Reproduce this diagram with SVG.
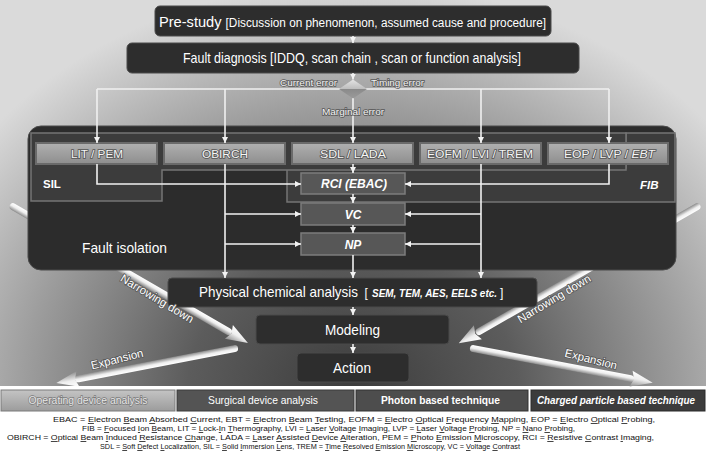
<svg xmlns="http://www.w3.org/2000/svg" width="706" height="454" viewBox="0 0 706 454">
<style>
text{font-family:"Liberation Sans",Arial,sans-serif;}
.dbox{fill:#2d2d2d;stroke:#4a4a4a;stroke-width:1;}
.dtx{fill:#ffffff;text-anchor:middle;}
.tbox{fill:url(#tg);stroke:#6a6a6a;stroke-width:2;}
.ttx{fill:#f6f6f6;font-size:11px;text-anchor:middle;stroke:#555;stroke-width:1.6;paint-order:stroke;}
.sbox{fill:#575757;stroke:#7c7c7c;stroke-width:1.5;}
.stx{fill:#ffffff;font-size:12px;font-weight:bold;font-style:italic;text-anchor:middle;}
.frame{fill:#3c3c3c;stroke:#747474;stroke-width:1.5;}
.con{fill:none;stroke:#f0f0f0;stroke-width:1.6;}
.arr{marker-end:url(#ah);}
.lbl{fill:#f4f4f4;font-size:9.5px;stroke:#5a5a5a;stroke-width:1.6;paint-order:stroke;}
.big{fill:#ffffff;font-size:11.5px;stroke:#555;stroke-width:1.6;paint-order:stroke;text-anchor:middle;}
.leg{fill:#111;font-size:7.8px;}
.u{text-decoration:underline;}
</style>
<defs>
<radialGradient id="bg" gradientUnits="userSpaceOnUse" cx="353" cy="392" r="410" gradientTransform="translate(353 392) scale(1.15 1) translate(-353 -392)">
<stop offset="0" stop-color="#3c3c3c"/>
<stop offset="0.35" stop-color="#5c5c5c"/>
<stop offset="0.7" stop-color="#9e9e9e"/>
<stop offset="1" stop-color="#dadada"/>
</radialGradient>
<linearGradient id="tg" x1="0" y1="0" x2="0" y2="1">
<stop offset="0" stop-color="#b0b0b0"/>
<stop offset="1" stop-color="#8e8e8e"/>
</linearGradient>
<linearGradient id="ag" x1="0" y1="0" x2="0" y2="1">
<stop offset="0" stop-color="#ffffff"/>
<stop offset="0.45" stop-color="#eeeeee"/>
<stop offset="1" stop-color="#8a8a8a"/>
</linearGradient>
<linearGradient id="dg" x1="0" y1="0" x2="0" y2="1">
<stop offset="0" stop-color="#e4e4e4"/>
<stop offset="0.5" stop-color="#bdbdbd"/>
<stop offset="0.5" stop-color="#8a8a8a"/>
<stop offset="1" stop-color="#9a9a9a"/>
</linearGradient>
<linearGradient id="og" x1="0" y1="0" x2="0" y2="1">
<stop offset="0" stop-color="#c4c4c4"/>
<stop offset="1" stop-color="#9c9c9c"/>
</linearGradient>
<marker id="ah" viewBox="0 0 8 8" refX="8" refY="4" markerWidth="6" markerHeight="6" markerUnits="userSpaceOnUse" orient="auto">
<path d="M0,0 L8,4 L0,8 z" fill="#f2f2f2"/>
</marker>
</defs>

<rect x="0" y="0" width="706" height="454" fill="#ffffff"/>
<rect x="0" y="0" width="706" height="386" fill="url(#bg)"/>

<g id="bigArrows">
<g transform="translate(10 205) rotate(30.1)">
<rect x="0" y="-3.5" width="256" height="7" rx="3.5" fill="url(#ag)"/>
<polygon points="253,-8 275,0 253,8 256,0" fill="url(#ag)"/>
</g>
<g transform="translate(700 205) rotate(150.2)">
<rect x="0" y="-3.5" width="258" height="7" rx="3.5" fill="url(#ag)"/>
<polygon points="256,-8 278,0 256,8 259,0" fill="url(#ag)"/>
</g>
<g transform="translate(238 348) rotate(169.1)">
<rect x="0" y="-3.5" width="166" height="7" rx="3.5" fill="url(#ag)"/>
<polygon points="163,-8 185,0 163,8 166,0" fill="url(#ag)"/>
</g>
<g transform="translate(470 348) rotate(10.8)">
<rect x="0" y="-3.5" width="167" height="7" rx="3.5" fill="url(#ag)"/>
<polygon points="164,-8 186,0 164,8 167,0" fill="url(#ag)"/>
</g>
</g>

<g id="n-prestudy">
<rect class="dbox" x="155" y="6" width="396" height="30" rx="5"/>
<text class="dtx" x="352.5" y="26.5" textLength="387" lengthAdjust="spacingAndGlyphs"><tspan font-size="15.5">Pre-study </tspan><tspan font-size="12.5">[Discussion on phenomenon, assumed cause and procedure]</tspan></text>
</g>
<g id="n-faultdiag">
<rect class="dbox" x="127" y="43" width="452" height="30" rx="5"/>
<text class="dtx" x="352" y="63" font-size="14.5" textLength="338" lengthAdjust="spacingAndGlyphs">Fault diagnosis [IDDQ, scan chain , scan or function analysis]</text>
</g>

<g id="n-faultisolation">
<rect x="28" y="126" width="648" height="144" rx="13" fill="#2c2c2c" stroke="#4a4a4a" stroke-width="1"/>
<path class="frame" d="M287,168 H626 V133 H675 V202 H287 Z"/>
<path class="frame" d="M31,133 H626 V170 H162 V201 H31 Z"/>
<text x="82" y="253" fill="#ffffff" font-size="14.5" textLength="85" lengthAdjust="spacingAndGlyphs">Fault isolation</text>
<text x="43" y="188" fill="#ffffff" font-size="11.5" font-weight="bold">SIL</text>
<text x="640" y="189" fill="#ffffff" font-size="11.5" font-weight="bold" font-style="italic">FIB</text>
</g>

<g id="n-litpem"><rect class="tbox" x="36" y="143" width="121" height="21"/><text class="ttx" x="97" y="157.5" textLength="52" lengthAdjust="spacingAndGlyphs">LIT / PEM</text></g>
<g id="n-obirch"><rect class="tbox" x="164" y="143" width="121" height="21"/><text class="ttx" x="225" y="157.5" textLength="46" lengthAdjust="spacingAndGlyphs">OBIRCH</text></g>
<g id="n-sdllada"><rect class="tbox" x="292" y="143" width="121" height="21"/><text class="ttx" x="353" y="157.5" textLength="66" lengthAdjust="spacingAndGlyphs">SDL / LADA</text></g>
<g id="n-eofm"><rect class="tbox" x="420" y="143" width="121" height="21"/><text class="ttx" x="480" y="157.5" textLength="106" lengthAdjust="spacingAndGlyphs">EOFM / LVI / TREM</text></g>
<g id="n-eop"><rect class="tbox" x="548" y="143" width="120" height="21"/><text class="ttx" x="609.5" y="157.5" textLength="91" lengthAdjust="spacingAndGlyphs">EOP / LVP / <tspan font-style="italic">EBT</tspan></text></g>

<g id="n-rci"><rect class="sbox" x="301" y="173" width="104" height="21"/><text class="stx" x="354" y="188" textLength="66" lengthAdjust="spacingAndGlyphs">RCI (EBAC)</text></g>
<g id="n-vc"><rect class="sbox" x="301" y="203" width="104" height="22"/><text class="stx" x="353" y="218.5">VC</text></g>
<g id="n-np"><rect class="sbox" x="301" y="233" width="104" height="22"/><text class="stx" x="353" y="248.5">NP</text></g>

<g id="n-physical">
<rect class="dbox" x="168" y="278" width="369" height="29" rx="4"/>
<text x="199" y="297" fill="#fff" font-size="14.5" textLength="159" lengthAdjust="spacingAndGlyphs">Physical chemical analysis</text>
<text x="364.5" y="297" fill="#fff" font-size="12">[</text>
<text x="372" y="297" fill="#fff" font-size="11" font-weight="bold" font-style="italic" textLength="125" lengthAdjust="spacingAndGlyphs">SEM, TEM, AES, EELS etc.</text>
<text x="500" y="297" fill="#fff" font-size="12">]</text>
</g>
<g id="n-modeling">
<rect class="dbox" x="256" y="315" width="193" height="29" rx="4"/>
<text class="dtx" x="352.5" y="334.5" font-size="15" textLength="55" lengthAdjust="spacingAndGlyphs">Modeling</text>
</g>
<g id="n-action">
<rect class="dbox" x="297" y="353" width="112" height="29" rx="4"/>
<text class="dtx" x="352" y="372.5" font-size="15" textLength="38" lengthAdjust="spacingAndGlyphs">Action</text>
</g>

<g id="connectors">
<path class="con arr" d="M353,36 V43"/>
<path class="con arr" d="M353,73 V79.5"/>
<path class="con" d="M97,89 H609"/>
<path class="con arr" d="M97,89 V143"/>
<path class="con arr" d="M225,89 V143"/>
<path class="con arr" d="M481,89 V143"/>
<path class="con arr" d="M609,89 V143"/>
<path class="con arr" d="M353,98 V143"/>
<path class="con arr" d="M97,164 V184 H301"/>
<path class="con arr" d="M609,164 V184 H405"/>
<path class="con arr" d="M225,164 V278"/>
<path class="con arr" d="M225,214 H301"/>
<path class="con arr" d="M225,244 H301"/>
<path class="con arr" d="M481,164 V278"/>
<path class="con arr" d="M481,214 H405"/>
<path class="con arr" d="M481,244 H405"/>
<path class="con arr" d="M353,164 V173"/>
<path class="con arr" d="M353,194 V203"/>
<path class="con arr" d="M353,225 V233"/>
<path class="con arr" d="M353,255 V278"/>
<path class="con arr" d="M353,307 V315"/>
<path class="con arr" d="M353,344 V353"/>
</g>

<g id="n-diamond">
<polygon points="339,89 353,79.5 367,89 353,98.5" fill="url(#dg)"/>
</g>

<g id="labels">
<text class="lbl" x="337" y="86" text-anchor="end" textLength="57" lengthAdjust="spacingAndGlyphs">Current error</text>
<text class="lbl" x="371" y="86" textLength="53" lengthAdjust="spacingAndGlyphs">Timing error</text>
<text class="lbl" x="353" y="114.5" text-anchor="middle" textLength="62" lengthAdjust="spacingAndGlyphs">Marginal error</text>
<text class="big" transform="translate(155 302) rotate(31)">Narrowing down</text>
<text class="big" transform="translate(556 302) rotate(-31)">Narrowing down</text>
<text class="big" transform="translate(118 363) rotate(-14)">Expansion</text>
<text class="big" transform="translate(590 363) rotate(14)">Expansion</text>
</g>

<g id="legendBar">
<rect x="1" y="390" width="174" height="21" fill="url(#og)" stroke="#7a7a7a" stroke-width="1"/>
<text x="88" y="404" font-size="11" text-anchor="middle" fill="#e6e6e6" stroke="#7a7a7a" stroke-width="1.4" paint-order="stroke" textLength="119" lengthAdjust="spacingAndGlyphs">Operating device analysis</text>
<rect x="177" y="390" width="177" height="21" fill="#545454" stroke="#3a3a3a" stroke-width="1"/>
<text x="263" y="404" font-size="11" text-anchor="middle" fill="#ffffff" textLength="110" lengthAdjust="spacingAndGlyphs">Surgical device analysis</text>
<rect x="356" y="390" width="172" height="21" fill="#4d4d4d" stroke="#333" stroke-width="1"/>
<text x="440.5" y="404" font-size="11" font-weight="bold" text-anchor="middle" fill="#ffffff" textLength="119" lengthAdjust="spacingAndGlyphs">Photon based technique</text>
<rect x="531" y="390" width="174" height="21" fill="#3c3c3c" stroke="#2a2a2a" stroke-width="1"/>
<text x="616" y="403.5" font-size="10.5" font-weight="bold" font-style="italic" text-anchor="middle" fill="#ffffff" textLength="158" lengthAdjust="spacingAndGlyphs">Charged particle based technique</text>
</g>

<g id="legendText">
<text class="leg" x="53" y="422" textLength="602" lengthAdjust="spacingAndGlyphs">EBAC = <tspan class="u">E</tspan>lectron <tspan class="u">B</tspan>eam <tspan class="u">A</tspan>bsorbed <tspan class="u">C</tspan>urrent, EBT = <tspan class="u">E</tspan>lectron <tspan class="u">B</tspan>eam <tspan class="u">T</tspan>esting, EOFM = <tspan class="u">E</tspan>lectro <tspan class="u">O</tspan>ptical <tspan class="u">F</tspan>requency <tspan class="u">M</tspan>apping, EOP = <tspan class="u">E</tspan>lectro <tspan class="u">O</tspan>ptical <tspan class="u">P</tspan>robing,</text>
<text class="leg" x="82" y="431" textLength="493" lengthAdjust="spacingAndGlyphs">FIB = <tspan class="u">F</tspan>ocused <tspan class="u">I</tspan>on <tspan class="u">B</tspan>eam, LIT = <tspan class="u">L</tspan>ock-<tspan class="u">I</tspan>n <tspan class="u">T</tspan>hermography, LVI = <tspan class="u">L</tspan>aser <tspan class="u">V</tspan>oltage <tspan class="u">I</tspan>maging, LVP = <tspan class="u">L</tspan>aser <tspan class="u">V</tspan>oltage <tspan class="u">P</tspan>robing, NP = <tspan class="u">N</tspan>ano <tspan class="u">P</tspan>robing,</text>
<text class="leg" x="7" y="440" textLength="647" lengthAdjust="spacingAndGlyphs">OBIRCH = <tspan class="u">O</tspan>ptical <tspan class="u">B</tspan>eam <tspan class="u">I</tspan>nduced <tspan class="u">R</tspan>esistance <tspan class="u">Ch</tspan>ange, LADA = <tspan class="u">L</tspan>aser <tspan class="u">A</tspan>ssisted <tspan class="u">D</tspan>evice <tspan class="u">A</tspan>lteration, PEM = <tspan class="u">P</tspan>hoto <tspan class="u">E</tspan>mission <tspan class="u">M</tspan>icroscopy, RCI = <tspan class="u">R</tspan>esistive <tspan class="u">C</tspan>ontrast <tspan class="u">I</tspan>maging,</text>
<text class="leg" x="100" y="449" textLength="420" lengthAdjust="spacingAndGlyphs">SDL = <tspan class="u">S</tspan>oft <tspan class="u">D</tspan>efect <tspan class="u">L</tspan>ocalization, SIL = <tspan class="u">S</tspan>olid <tspan class="u">I</tspan>mmersion <tspan class="u">L</tspan>ens, TREM = <tspan class="u">T</tspan>ime <tspan class="u">R</tspan>esolved <tspan class="u">E</tspan>mission <tspan class="u">M</tspan>icroscopy, VC = <tspan class="u">V</tspan>oltage <tspan class="u">C</tspan>ontrast</text>
</g>
</svg>
